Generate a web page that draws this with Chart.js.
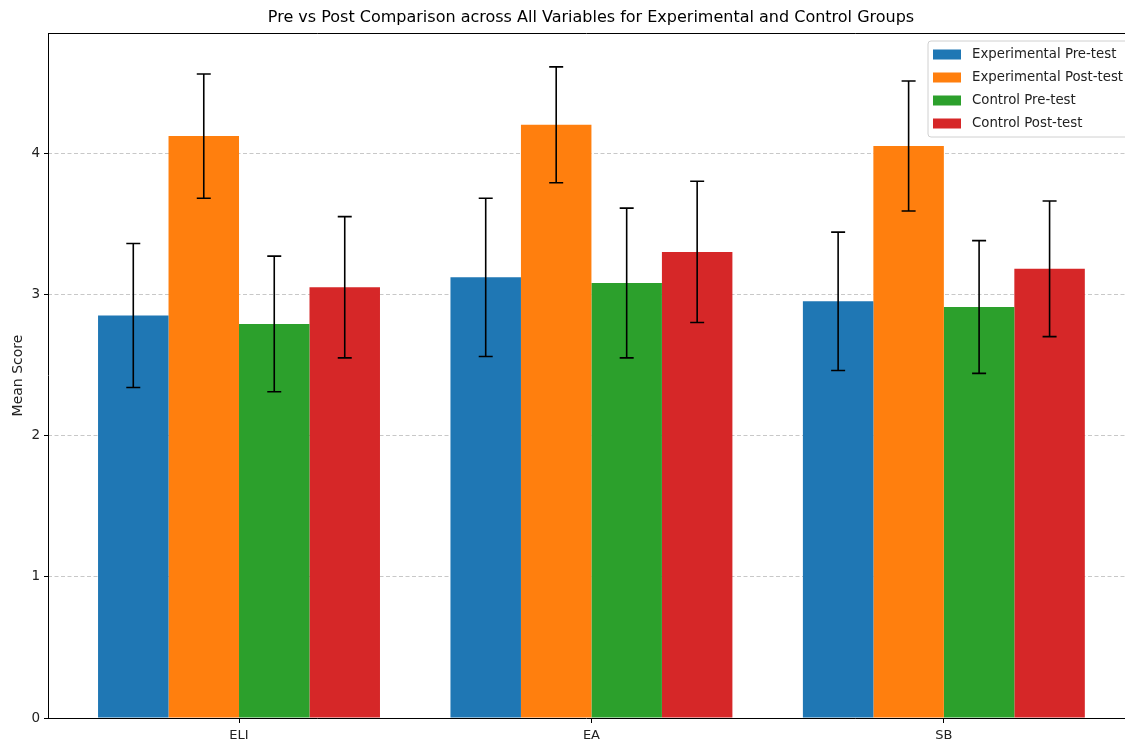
<!DOCTYPE html>
<html>
<head>
<meta charset="utf-8">
<script src="https://cdn.jsdelivr.net/npm/chart.js@4/dist/chart.umd.min.js"></script>
<style>
  html, body { margin: 0; padding: 0; background: #fff; overflow: hidden; }
</style>
</head>
<body>
<canvas id="chart" width="1125" height="744"></canvas>
<script>
// Pre/post means with SD error bars.
const categories = ['ELI', 'EA', 'SB'];
const seriesLabels = ['Experimental Pre-test', 'Experimental Post-test', 'Control Pre-test', 'Control Post-test'];
const seriesColors = ['#1f77b4', '#ff7f0e', '#2ca02c', '#d62728'];

const expPreMean = [2.85, 3.12, 2.95];
const expPreSd = [0.51, 0.56, 0.49];
const expPostMean = [4.12, 4.20, 4.05];
const expPostSd = [0.44, 0.41, 0.46];
const ctrlPreMean = [2.79, 3.08, 2.91];
const ctrlPreSd = [0.48, 0.53, 0.47];
const ctrlPostMean = [3.05, 3.30, 3.18];
const ctrlPostSd = [0.50, 0.50, 0.48];

const yTicks = [0, 1, 2, 3, 4];

const means = [expPreMean, expPostMean, ctrlPreMean, ctrlPostMean];
const sds = [expPreSd, expPostSd, ctrlPreSd, ctrlPostSd];

const FONT = '"DejaVu Sans", sans-serif';

// error bars drawn on top of the bars
const errorBars = {
    id: 'errorBars',
    afterDatasetsDraw(chart) {
        const ctx = chart.ctx;
        const y = chart.scales.y;
        ctx.save();
        ctx.strokeStyle = '#000';
        chart.data.datasets.forEach((ds, di) => {
            chart.getDatasetMeta(di).data.forEach((bar, i) => {
                const m = ds.data[i].y, s = ds.sd[i];
                const top = y.getPixelForValue(m + s), bot = y.getPixelForValue(m - s);
                ctx.lineWidth = 1.6;
                ctx.beginPath();
                ctx.moveTo(bar.x, top); ctx.lineTo(bar.x, bot);
                ctx.moveTo(bar.x - 7, top); ctx.lineTo(bar.x + 7, top);
                ctx.moveTo(bar.x - 7, bot); ctx.lineTo(bar.x + 7, bot);
                ctx.stroke();
            });
        });
        ctx.restore();
    }
};

// spines, title and the framed legend, matplotlib style
const frame = {
    id: 'frame',
    afterDraw(chart) {
        const ctx = chart.ctx;
        const a = chart.chartArea;
        ctx.save();
        ctx.strokeStyle = '#000';
        ctx.lineWidth = 1;
        ctx.beginPath();
        ctx.moveTo(a.left + 0.5, a.top); ctx.lineTo(a.left + 0.5, a.bottom);
        ctx.moveTo(a.left, a.top + 0.5); ctx.lineTo(a.right, a.top + 0.5);
        ctx.moveTo(a.left, a.bottom + 0.5); ctx.lineTo(a.right, a.bottom + 0.5);
        ctx.stroke();

        ctx.fillStyle = '#000';
        ctx.font = '16px ' + FONT;
        ctx.textAlign = 'center';
        ctx.textBaseline = 'middle';
        ctx.fillText('Pre vs Post Comparison across All Variables for Experimental and Control Groups', 591, 18);

        // legend box
        const lx = 928, ly = 41, lw = 215, lh = 96, r = 3;
        ctx.beginPath();
        ctx.moveTo(lx + r, ly);
        ctx.lineTo(lx + lw - r, ly);
        ctx.arcTo(lx + lw, ly, lx + lw, ly + r, r);
        ctx.lineTo(lx + lw, ly + lh - r);
        ctx.arcTo(lx + lw, ly + lh, lx + lw - r, ly + lh, r);
        ctx.lineTo(lx + r, ly + lh);
        ctx.arcTo(lx, ly + lh, lx, ly + lh - r, r);
        ctx.lineTo(lx, ly + r);
        ctx.arcTo(lx, ly, lx + r, ly, r);
        ctx.closePath();
        ctx.fillStyle = 'rgba(255,255,255,0.85)';
        ctx.fill();
        ctx.strokeStyle = '#d0d0d0';
        ctx.stroke();

        ctx.font = '13.3px ' + FONT;
        ctx.textAlign = 'left';
        chart.data.datasets.forEach((ds, i) => {
            const cy = 54.5 + i * 23;
            ctx.fillStyle = ds.backgroundColor;
            ctx.fillRect(933, cy - 5, 28, 10);
            ctx.fillStyle = '#222';
            ctx.fillText(ds.label, 972, cy);
        });
        ctx.restore();
    }
};

new Chart(document.getElementById('chart'), {
    type: 'bar',
    data: {
        datasets: seriesLabels.map((label, si) => ({
            label: label,
            data: categories.map((c, i) => ({ x: i, y: means[si][i] })),
            sd: sds[si],
            backgroundColor: seriesColors[si],
            borderWidth: 0,
            categoryPercentage: 0.8,
            barPercentage: 1.0
        }))
    },
    options: {
        responsive: false,
        animation: false,
        layout: { padding: { top: 33, left: 0, right: 0, bottom: 0 } },
        plugins: {
            legend: { display: false },
            title: { display: false },
            tooltip: { enabled: false }
        },
        scales: {
            x: {
                type: 'linear',
                offset: false,
                min: -0.542,
                max: 2.514,
                afterBuildTicks: s => { s.ticks = categories.map((c, i) => ({ value: i })); },
                afterFit: s => { s.height = 26; },
                ticks: {
                    callback: v => categories[v],
                    autoSkip: false,
                    maxRotation: 0,
                    padding: 5,
                    color: '#222',
                    font: { family: FONT, size: 13 }
                },
                grid: { offset: false, drawOnChartArea: false, drawTicks: true, tickLength: 5, tickColor: '#000', tickWidth: 1 },
                border: { display: false }
            },
            y: {
                min: 0,
                max: 4.85,
                afterBuildTicks: s => { s.ticks = yTicks.map(v => ({ value: v })); },
                afterFit: s => { s.width = 48; },
                ticks: {
                    padding: 4,
                    color: '#222',
                    font: { family: FONT, size: 13.5 }
                },
                grid: {
                    color: '#c8c8c8',
                    lineWidth: 1,
                    borderDash: [4, 2.5],
                    tickLength: 4,
                    tickColor: '#000',
                    tickBorderDash: []
                },
                border: { display: false, dash: [4, 2.5] },
                title: {
                    display: true,
                    text: 'Mean Score',
                    color: '#222',
                    font: { family: FONT, size: 14 },
                    padding: { top: 10, bottom: 0 }
                }
            }
        }
    },
    plugins: [errorBars, frame]
});
</script>
</body>
</html>
